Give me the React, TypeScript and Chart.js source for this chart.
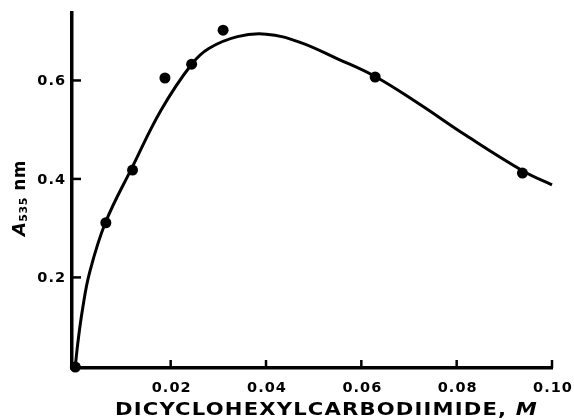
import React, { useEffect, useRef } from "react";
import { Chart, registerables } from "chart.js";

Chart.register(...registerables);

// Measured points (molarity, absorbance)
const pointX = [0, 0.0064, 0.012, 0.0188, 0.0244, 0.031, 0.0629, 0.0938];
const pointY = [0.018, 0.311, 0.418, 0.605, 0.633, 0.702, 0.607, 0.412];

// Fitted curve
const curveX = [0, 0.0005, 0.0015, 0.003, 0.0063, 0.012, 0.018, 0.0244, 0.028, 0.034, 0.04, 0.047, 0.055, 0.0629, 0.072, 0.082, 0.0941, 0.1];
const curveY = [0.02, 0.065, 0.135, 0.21, 0.311, 0.425, 0.54, 0.633, 0.665, 0.689, 0.694, 0.678, 0.644, 0.608, 0.553, 0.488, 0.415, 0.388];

const xTicks = [0.02, 0.04, 0.06, 0.08, 0.1];
const xTickLabels = ["0.02", "0.04", "0.06", "0.08", "0.10"];
const yTicks = [0.2, 0.4, 0.6];
const yTickLabels = ["0.2", "0.4", "0.6"];

const xTitleText = "DICYCLOHEXYLCARBODIIMIDE, ";
const xTitleUnit = "M";
const yTitleSymbol = "A";
const yTitleSub = "535";
const yTitleUnit = " nm";

const FONT = '"DejaVu Sans", sans-serif';

const decorPlugin = {
  id: "decor",
  afterDraw(chart: any) {
    const ctx: CanvasRenderingContext2D = chart.ctx;
    const { left, bottom } = chart.chartArea;
    const xs = chart.scales.x;
    const ys = chart.scales.y;
    ctx.save();
    ctx.strokeStyle = "#000";
    ctx.fillStyle = "#000";
    ctx.lineWidth = 2.5;
    // inward tick marks
    yTicks.forEach((v) => {
      const py = ys.getPixelForValue(v);
      ctx.beginPath();
      ctx.moveTo(left, py);
      ctx.lineTo(left + 9, py);
      ctx.stroke();
    });
    xTicks.forEach((v) => {
      const px = xs.getPixelForValue(v);
      ctx.beginPath();
      ctx.moveTo(px, bottom);
      ctx.lineTo(px, bottom - 8);
      ctx.stroke();
    });
    // tick labels
    (ctx as any).letterSpacing = "1px";
    ctx.font = `bold 14.5px ${FONT}`;
    ctx.textBaseline = "middle";
    ctx.textAlign = "right";
    yTicks.forEach((v, i) => {
      ctx.fillText(yTickLabels[i], left - 6, ys.getPixelForValue(v) + 1);
    });
    ctx.textAlign = "center";
    xTicks.forEach((v, i) => {
      ctx.fillText(xTickLabels[i], xs.getPixelForValue(v) + 1, bottom + 20);
    });

    // x title with italic unit, stretched horizontally to the original width
    ctx.textAlign = "left";
    ctx.textBaseline = "alphabetic";
    (ctx as any).letterSpacing = "1px";
    const mainFont = `bold 18px ${FONT}`;
    const unitFont = `italic bold 18px ${FONT}`;
    ctx.font = mainFont;
    const w1 = ctx.measureText(xTitleText).width;
    ctx.font = unitFont;
    const w2 = ctx.measureText(xTitleUnit).width;
    const targetW = 423;
    const sx = targetW / (w1 + w2);
    ctx.save();
    ctx.translate(115, 415);
    ctx.scale(sx, 1);
    ctx.font = mainFont;
    ctx.fillText(xTitleText, 0, 0);
    ctx.font = unitFont;
    ctx.fillText(xTitleUnit, w1, 0);
    ctx.restore();

    // y title rotated
    (ctx as any).letterSpacing = "0.5px";
    ctx.translate(25, 198);
    ctx.rotate(-Math.PI / 2);
    const symFont = `italic bold 18px ${FONT}`;
    const subFont = `bold 11px ${FONT}`;
    const uFont = `bold 17px ${FONT}`;
    ctx.font = symFont;
    const a = ctx.measureText(yTitleSymbol).width;
    ctx.font = subFont;
    const b = ctx.measureText(yTitleSub).width;
    ctx.font = uFont;
    const c = ctx.measureText(yTitleUnit).width;
    let x0 = -(a + b + c) / 2;
    ctx.font = symFont;
    ctx.fillText(yTitleSymbol, x0, 0);
    x0 += a;
    ctx.font = subFont;
    ctx.fillText(yTitleSub, x0, 2);
    x0 += b;
    ctx.font = uFont;
    ctx.fillText(yTitleUnit, x0, 0);
    ctx.restore();
  },
};

export default function App() {
  const ref = useRef<HTMLCanvasElement | null>(null);
  useEffect(() => {
    if (!ref.current) return;
    const chart = new Chart(ref.current, {
      type: "scatter",
      data: {
        datasets: [
          {
            type: "line",
            data: curveX.map((x, i) => ({ x, y: curveY[i] })),
            borderColor: "#000",
            borderWidth: 3,
            pointRadius: 0,
            tension: 0.4,
            fill: false,
            clip: false,
          } as any,
          {
            type: "scatter",
            data: pointX.map((x, i) => ({ x, y: pointY[i] })),
            backgroundColor: "#000",
            borderColor: "#000",
            borderWidth: 0,
            pointRadius: 5.5,
            clip: false,
          } as any,
        ],
      },
      options: {
        responsive: false,
        animation: false,
        layout: { padding: { left: 0, top: 13, right: 22, bottom: 0 } },
        plugins: { legend: { display: false }, tooltip: { enabled: false } },
        scales: {
          x: {
            type: "linear",
            min: -0.0007,
            max: 0.1,
            grid: { display: false },
            border: { display: true, color: "#000", width: 3.5 },
            ticks: { display: false },
            afterBuildTicks: (s: any) => {
              s.ticks = xTicks.map((v) => ({ value: v }));
            },
            afterFit: (s: any) => {
              s.height = 52;
            },
          },
          y: {
            type: "linear",
            min: 0.016,
            max: 0.737,
            grid: { display: false },
            border: { display: true, color: "#000", width: 3.5 },
            ticks: { display: false },
            afterBuildTicks: (s: any) => {
              s.ticks = yTicks.map((v) => ({ value: v }));
            },
            afterFit: (s: any) => {
              s.width = 72;
            },
          },
        },
      } as any,
      plugins: [decorPlugin],
    });
    return () => chart.destroy();
  }, []);
  return (
    <div style={{ position: "fixed", left: 0, top: 0, width: 574, height: 420, background: "#fff" }}>
      <canvas ref={ref} width={574} height={420} style={{ width: 574, height: 420, display: "block" }} />
    </div>
  );
}
